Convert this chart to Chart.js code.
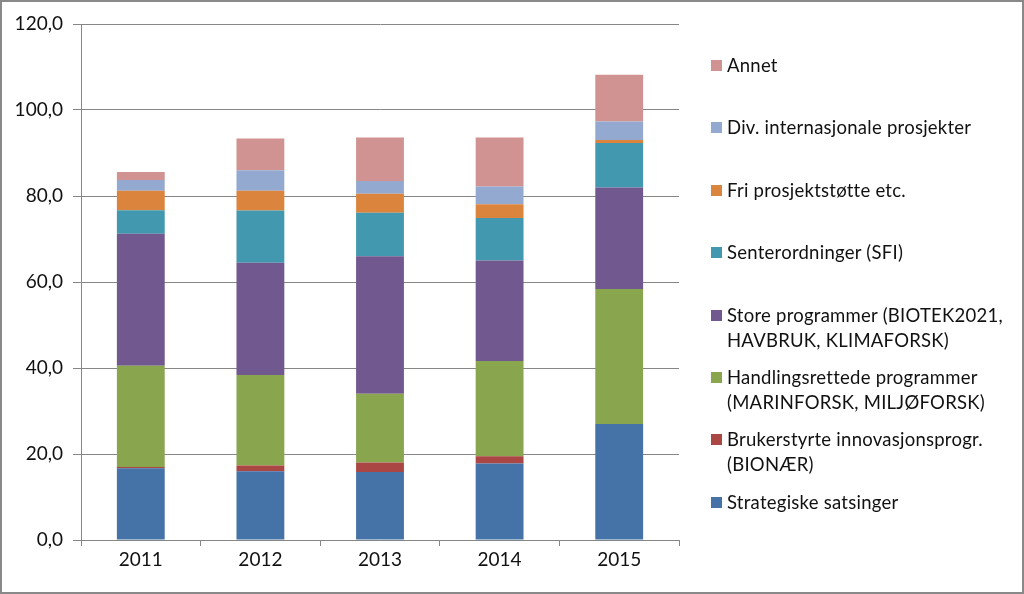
<!DOCTYPE html>
<html>
<head>
<meta charset="utf-8">
<script src="https://cdn.jsdelivr.net/npm/chart.js@4/dist/chart.umd.min.js"></script>
<style>
  html, body { margin: 0; padding: 0; background: #fff; }
  #wrap { position: relative; width: 1024px; height: 594px; overflow: hidden; }
  #frame { position: absolute; left: 0; top: 0; width: 1024px; height: 594px; box-sizing: border-box; border: 2px solid #898989; pointer-events: none; }
  #legend { position: absolute; left: 0; top: 0; width: 1024px; height: 594px; pointer-events: none; }
  .item { position: absolute; left: 711px; font-family: Lato, "Open Sans", sans-serif; font-size: 18.5px; letter-spacing: 0.25px; line-height: 25px; color: #111; }
  .box { position: absolute; left: 0; top: 7px; width: 11px; height: 11px; }
  .txt { position: absolute; left: 16px; top: 0; white-space: nowrap; }
</style>
</head>
<body>
<div id="wrap">
  <canvas id="c" width="1024" height="594"></canvas>
  <div id="legend"></div>
  <div id="frame"></div>
</div>
<script>
const years = ['2011', '2012', '2013', '2014', '2015'];
const strategiske  = [16.7, 16.0, 15.8, 17.8, 27.0];
const brukerstyrte = [0.3, 1.3, 2.2, 1.7, 0.0];
const handlings    = [23.5, 21.1, 16.0, 22.1, 31.4];
const store        = [30.7, 26.1, 32.0, 23.4, 23.6];
const senter       = [5.5, 12.1, 10.1, 9.9, 10.3];
const fri          = [4.5, 4.6, 4.4, 3.2, 0.7];
const div          = [2.5, 4.8, 3.0, 4.1, 4.3];
const annet        = [1.9, 7.4, 10.1, 11.4, 10.9];
const yTicks = [0, 20, 40, 60, 80, 100, 120];

const seriesNames = [
  'Strategiske satsinger',
  ['Brukerstyrte innovasjonsprogr.', '(BIONÆR)'],
  ['Handlingsrettede programmer', '(MARINFORSK, MILJØFORSK)'],
  ['Store programmer (BIOTEK2021,', 'HAVBRUK, KLIMAFORSK)'],
  'Senterordninger (SFI)',
  'Fri prosjektstøtte etc.',
  'Div. internasjonale prosjekter',
  'Annet'
];
const seriesData = [strategiske, brukerstyrte, handlings, store, senter, fri, div, annet];
const colors = ['#4572A7', '#AA4643', '#89A54E', '#71588F', '#4198AF', '#DB843D', '#93A9CF', '#D19392'];

const datasets = seriesData.map((d, i) => ({
  label: Array.isArray(seriesNames[i]) ? seriesNames[i].join(' ') : seriesNames[i],
  data: d,
  backgroundColor: colors[i],
  borderWidth: 0,
  barPercentage: 0.4,
  categoryPercentage: 1.0,
  stack: 's'
}));

const gridColor = '#868686';
const tickFont = { family: 'Lato, "Open Sans", sans-serif', size: 19 };

new Chart(document.getElementById('c'), {
  type: 'bar',
  data: { labels: years, datasets },
  options: {
    responsive: false,
    animation: false,
    devicePixelRatio: 1,
    layout: { padding: { left: 0, top: 24, right: 1024 - 679, bottom: 0 } },
    plugins: { legend: { display: false }, tooltip: { enabled: false } },
    scales: {
      x: {
        stacked: true,
        grid: { display: true, offset: true, drawOnChartArea: false, drawTicks: true, tickLength: 6, color: gridColor },
        border: { display: true, color: gridColor, width: 1 },
        ticks: { color: '#111', font: tickFont, padding: 2, maxRotation: 0 },
        afterFit: (s) => { s.height = 594 - 540; }
      },
      y: {
        stacked: true,
        min: 0, max: 120,
        afterBuildTicks: (s) => { s.ticks = yTicks.map(v => ({ value: v })); },
        grid: { color: gridColor, lineWidth: 1, drawTicks: true, tickLength: 8 },
        border: { display: true, color: gridColor, width: 1 },
        ticks: {
          color: '#111', font: tickFont, padding: 10,
          callback: (v) => Number(v).toFixed(1).replace('.', ',')
        },
        afterFit: (s) => { s.width = 81; }
      }
    }
  }
});

// Legend (reverse order, like the reference)
const legend = document.getElementById('legend');
const firstTop = 53;
const step = 62.4;
for (let k = 0; k < seriesNames.length; k++) {
  const i = seriesNames.length - 1 - k;
  const lines = Array.isArray(seriesNames[i]) ? seriesNames[i] : [seriesNames[i]];
  const item = document.createElement('div');
  item.className = 'item';
  item.style.top = (firstTop + k * step) + 'px';
  const box = document.createElement('div');
  box.className = 'box';
  box.style.background = colors[i];
  const txt = document.createElement('div');
  txt.className = 'txt';
  txt.innerHTML = lines.map(l => l.replace(/&/g, '&amp;').replace(/</g, '&lt;')).join('<br>');
  item.appendChild(box);
  item.appendChild(txt);
  legend.appendChild(item);
}
</script>
</body>
</html>
